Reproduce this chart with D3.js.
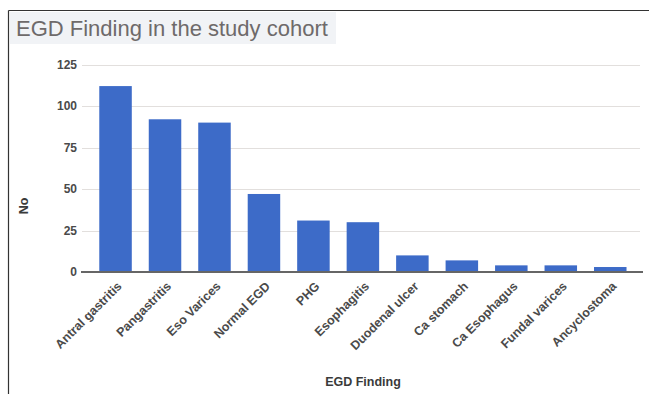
<!DOCTYPE html>
<html>
<head>
<meta charset="utf-8">
<script src="https://cdn.jsdelivr.net/npm/d3@7"></script>
<style>
  html, body { margin: 0; padding: 0; background: #fff; }
  svg { display: block; font-family: Arial, "Liberation Sans", sans-serif; }
</style>
</head>
<body>
<svg id="chart" width="649" height="394"></svg>
<script>
// EGD findings and patient counts
const categories = ["Antral gastritis", "Pangastritis", "Eso Varices", "Normal EGD", "PHG",
  "Esophagitis", "Duodenal ulcer", "Ca stomach", "Ca Esophagus", "Fundal varices", "Ancyclostoma"];
const counts = [112, 92, 90, 47, 31, 30, 10, 7, 4, 4, 3];
const yTicks = [0, 25, 50, 75, 100, 125];

const svg = d3.select("#chart");

// frame lines (top and left)
svg.append("line").attr("x1", 8.5).attr("x2", 649).attr("y1", 10.5).attr("y2", 10.5)
  .attr("stroke", "#333").attr("stroke-width", 1.2);
svg.append("line").attr("x1", 8.5).attr("x2", 8.5).attr("y1", 10.5).attr("y2", 394)
  .attr("stroke", "#333").attr("stroke-width", 1.2);

// title with its light backdrop
svg.append("rect").attr("x", 10).attr("y", 12).attr("width", 326).attr("height", 32)
  .attr("fill", "#f1f3f6");
svg.append("text").attr("x", 16).attr("y", 36)
  .attr("font-size", 22).attr("fill", "#6e6a6a")
  .text("EGD Finding in the study cohort");

const x = d3.scaleBand().domain(categories).range([90.8, 635])
  .paddingInner(0.343).paddingOuter(0.1715);
const y = d3.scaleLinear().domain([0, 125]).range([272, 64.5]);

// horizontal gridlines
svg.append("g").selectAll("line").data(yTicks.filter(d => d > 0)).join("line")
  .attr("x1", 82).attr("x2", 640)
  .attr("y1", d => Math.round(y(d)) + 0.5).attr("y2", d => Math.round(y(d)) + 0.5)
  .attr("stroke", "#e2dfdd").attr("stroke-width", 1.2);

// y tick labels
const yAxis = d3.axisLeft(y).tickValues(yTicks).tickSize(0).tickPadding(0);
const gy = svg.append("g").attr("transform", "translate(77,0)").call(yAxis);
gy.select(".domain").remove();
gy.selectAll("text").attr("font-size", 12).attr("font-weight", "bold")
  .attr("fill", "#4a4a4a").attr("font-family", "Arial, 'Liberation Sans', sans-serif");

// bars
svg.append("g").selectAll("rect").data(counts).join("rect")
  .attr("x", (d, i) => x(categories[i]))
  .attr("width", x.bandwidth())
  .attr("y", d => y(d))
  .attr("height", d => y(0) - y(d))
  .attr("fill", "#3d6bc8");

// baseline
svg.append("line").attr("x1", 81).attr("x2", 643).attr("y1", 272).attr("y2", 272)
  .attr("stroke", "#666").attr("stroke-width", 1.8);

// category labels, rotated
const xAxis = d3.axisBottom(x).tickSize(0).tickPadding(0);
const gx = svg.append("g").attr("transform", "translate(0,272)").call(xAxis);
gx.select(".domain").remove();
gx.selectAll("text")
  .attr("font-size", 12.5).attr("font-weight", "bold").attr("fill", "#4a4a4a")
  .attr("font-family", "Arial, 'Liberation Sans', sans-serif")
  .attr("text-anchor", "end").attr("dy", null).attr("y", 0)
  .attr("transform", "translate(7,15) rotate(-45)");

// axis titles
svg.append("text").attr("x", 363).attr("y", 386).attr("text-anchor", "middle")
  .attr("font-size", 12.5).attr("font-weight", "bold").attr("fill", "#3a3a3a")
  .text("EGD Finding");
svg.append("text").attr("transform", "translate(28,206) rotate(-90)").attr("text-anchor", "middle")
  .attr("font-size", 12.5).attr("font-weight", "bold").attr("fill", "#3a3a3a")
  .text("No");
</script>
</body>
</html>
